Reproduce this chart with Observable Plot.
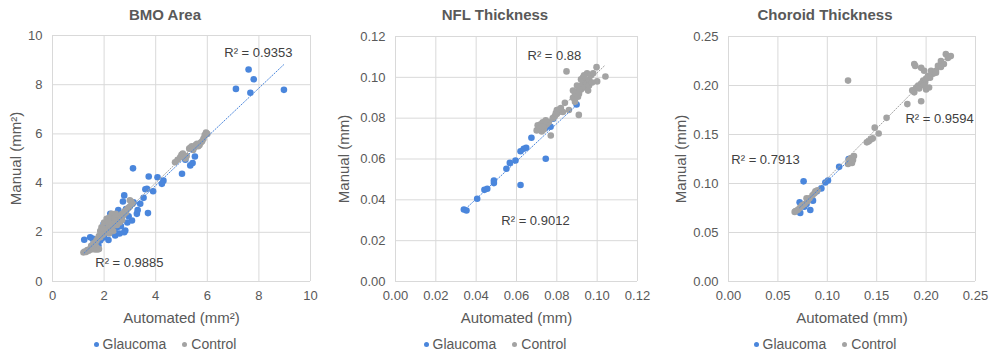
<!DOCTYPE html>
<html><head><meta charset="utf-8">
<script src="https://cdn.jsdelivr.net/npm/d3@7"></script>
<script src="https://cdn.jsdelivr.net/npm/@observablehq/plot@0.6"></script>
<style>
body{margin:0;background:#fff;font-family:"Liberation Sans",Arial,sans-serif;}
#row{display:flex;width:990px;height:356px;overflow:hidden;}
.panel{width:330px;flex:none;}
.title{height:28px;line-height:29px;text-align:center;font-weight:bold;font-size:15px;color:#595959;}
.legend{height:26px;line-height:28px;text-align:center;font-size:14px;color:#595959;}
.legend .sw{display:inline-block;width:5px;height:5px;border-radius:50%;vertical-align:middle;margin:0 4px 2px 0;}
.legend .item{margin:0 8px;}
svg{display:block;}
</style>
</head><body>
<div id="row"></div>
<script>
// ---- data ----
const titles = ["BMO Area", "NFL Thickness", "Choroid Thickness"];
const xLabels = ["Automated (mm²)", "Automated (mm)", "Automated (mm)"];
const yLabels = ["Manual (mm²)", "Manual (mm)", "Manual (mm)"];
const seriesNames = ["Glaucoma", "Control"];

const bmoTicks = [0, 2, 4, 6, 8, 10];
const nflTicks = [0, 0.02, 0.04, 0.06, 0.08, 0.10, 0.12];
const choroidTicks = [0, 0.05, 0.10, 0.15, 0.20, 0.25];

const bmoGlaucoma = [[7.6,8.62],[7.11,7.83],[7.8,8.22],[7.67,7.67],[8.97,7.79],[3.12,4.6],[3.73,4.27],[4.07,4.24],[4.3,4.1],[4.24,3.97],[5.02,4.38],[5.34,4.72],[5.43,4.82],[5.52,5.08],[5.15,4.95],[3.66,3.77],[3.9,3.67],[3.7,2.78],[3.53,3.4],[3.4,3.16],[3.14,3.22],[2.78,3.5],[2.73,3.25],[2.52,2.78],[2.24,2.75],[2.82,2.07],[2.78,2.0],[3.08,2.48],[3.27,2.75],[1.85,1.67],[2.43,1.87],[2.17,1.69],[1.23,1.7],[1.46,1.8],[1.98,2.34],[1.68,1.33],[1.78,1.46],[1.6,1.6],[2.5,2.2],[2.9,2.4],[2.3,2.0],[2.6,1.95],[2.65,2.25],[2.0,1.8],[2.2,2.45],[2.55,2.9],[2.85,2.95],[1.55,1.75],[2.95,2.65],[3.3,2.9],[2.4,2.1],[1.9,1.75],[3.6,3.75]];
const bmoControl = [[1.2,1.18],[1.25,1.22],[1.3,1.2],[1.35,1.28],[1.4,1.25],[1.45,1.32],[1.5,1.3],[1.55,1.38],[1.6,1.35],[1.65,1.3],[1.7,1.4],[1.75,1.3],[1.8,1.32],[1.5,1.45],[1.6,1.55],[1.7,1.65],[1.75,1.75],[1.8,1.85],[1.85,1.8],[1.9,1.95],[1.95,1.9],[2.0,2.05],[2.05,2.0],[2.1,2.15],[2.15,2.1],[2.2,2.25],[2.25,2.2],[2.3,2.35],[2.35,2.3],[2.4,2.45],[2.45,2.4],[2.5,2.55],[2.55,2.5],[2.6,2.65],[2.65,2.6],[2.7,2.75],[2.75,2.7],[2.8,2.85],[2.85,2.8],[2.9,2.95],[2.95,3.0],[3.0,3.05],[3.05,3.25],[3.0,3.3],[3.1,3.15],[2.0,2.4],[2.1,2.55],[2.2,2.6],[2.3,2.75],[2.4,2.6],[1.9,2.2],[2.5,2.3],[2.2,1.95],[2.35,2.05],[1.85,2.05],[2.6,2.4],[2.45,2.75],[2.15,2.45],[1.95,2.15],[2.7,2.5],[4.75,4.85],[4.85,4.95],[4.95,5.05],[5.0,5.15],[5.05,5.2],[5.15,5.0],[5.2,5.1],[5.3,5.4],[5.35,5.45],[5.4,5.5],[5.5,5.45],[5.55,5.55],[5.6,5.6],[5.7,5.55],[5.75,5.65],[5.8,5.7],[5.85,5.8],[5.9,5.95],[5.95,6.05],[6.0,6.0],[5.45,5.35],[5.65,5.5]];

const nflGlaucoma = [[0.0339,0.0353],[0.0352,0.0348],[0.0405,0.0405],[0.0441,0.0449],[0.0455,0.0454],[0.0488,0.0495],[0.0488,0.0482],[0.055,0.0552],[0.0567,0.0581],[0.0595,0.0593],[0.062,0.0638],[0.0636,0.065],[0.0648,0.0655],[0.062,0.0473],[0.0674,0.0704],[0.0745,0.0601],[0.0782,0.0797],[0.0898,0.0867],[0.0769,0.0758],[0.0744,0.0752]];
const nflControl = [[0.070,0.074],[0.071,0.076],[0.072,0.077],[0.073,0.078],[0.0715,0.075],[0.0725,0.0735],[0.074,0.076],[0.075,0.077],[0.0705,0.0765],[0.0735,0.0745],[0.076,0.078],[0.0745,0.079],[0.072,0.075],[0.073,0.076],[0.077,0.0715],[0.078,0.080],[0.079,0.081],[0.080,0.082],[0.081,0.083],[0.082,0.085],[0.080,0.084],[0.083,0.083],[0.0795,0.0825],[0.0815,0.0845],[0.084,0.0875],[0.086,0.084],[0.088,0.090],[0.089,0.092],[0.090,0.093],[0.091,0.095],[0.092,0.096],[0.093,0.097],[0.094,0.098],[0.092,0.094],[0.091,0.092],[0.093,0.099],[0.095,0.097],[0.096,0.099],[0.097,0.101],[0.098,0.102],[0.095,0.102],[0.094,0.095],[0.096,0.096],[0.090,0.096],[0.089,0.088],[0.092,0.099],[0.093,0.100],[0.0975,0.0975],[0.100,0.098],[0.0848,0.1029],[0.0909,0.0816],[0.1041,0.1004],[0.0997,0.105],[0.0935,0.101],[0.0955,0.0935],[0.088,0.0935],[0.0905,0.0905]];

const choroidGlaucoma = [[0.076,0.1022],[0.072,0.0808],[0.0726,0.070],[0.0828,0.073],[0.0855,0.0825],[0.0767,0.0764],[0.0895,0.092],[0.094,0.095],[0.098,0.101],[0.1007,0.103],[0.112,0.117],[0.1216,0.125],[0.079,0.079]];
const choroidControl = [[0.067,0.071],[0.070,0.073],[0.072,0.075],[0.075,0.078],[0.077,0.079],[0.080,0.082],[0.082,0.085],[0.085,0.088],[0.087,0.090],[0.088,0.092],[0.090,0.093],[0.068,0.072],[0.074,0.077],[0.079,0.085],[0.121,0.120],[0.123,0.122],[0.125,0.121],[0.126,0.124],[0.127,0.128],[0.124,0.126],[0.122,0.124],[0.140,0.142],[0.142,0.143],[0.144,0.145],[0.146,0.146],[0.148,0.157],[0.152,0.151],[0.160,0.167],[0.181,0.181],[0.186,0.195],[0.188,0.193],[0.190,0.198],[0.192,0.200],[0.195,0.202],[0.197,0.205],[0.199,0.203],[0.200,0.207],[0.202,0.210],[0.198,0.215],[0.195,0.218],[0.205,0.215],[0.207,0.212],[0.210,0.215],[0.212,0.220],[0.215,0.225],[0.218,0.222],[0.220,0.232],[0.225,0.230],[0.222,0.228],[0.188,0.222],[0.189,0.220],[0.195,0.184],[0.200,0.196],[0.203,0.198],[0.193,0.197],[0.198,0.200],[0.204,0.208],[0.210,0.213],[0.215,0.219],[0.121,0.205]];

// R² annotations: [x, y, label]
const bmoR2 = [[7.98,9.31,"R² = 0.9353"],[2.98,0.77,"R² = 0.9885"]];
const nflR2 = [[0.0788,0.1107,"R² = 0.88"],[0.0694,0.0299,"R² = 0.9012"]];
const choroidR2 = [[0.2136,0.1663,"R² = 0.9594"],[0.0374,0.1245,"R² = 0.7913"]];

// ---- styling ----
const BLUE = "#4a86dc", GRAY = "#a3a3a3", TXT = "#595959";
const FONT = '"Liberation Sans", Arial, sans-serif';

function makePanel(i, glaucoma, control, ticks, fmt, r2, m) {
  const g = glaucoma.map(([x, y]) => ({x, y}));
  const c = control.map(([x, y]) => ({x, y}));
  const a = r2.map(([x, y, t]) => ({x, y, t}));
  const domain = [ticks[0], ticks[ticks.length - 1]];
  const grid = {stroke: "#d9d9d9", strokeOpacity: 1, strokeWidth: 1};
  const svg = Plot.plot({
    width: 330, height: 302,
    marginLeft: m[0], marginRight: m[1], marginTop: m[2], marginBottom: 49,
    style: {fontFamily: FONT, fontSize: "13px", color: TXT, background: "white"},
    x: {domain},
    y: {domain},
    marks: [
      Plot.gridX(ticks, grid),
      Plot.gridY(ticks, grid),
      Plot.axisX({ticks, tickFormat: fmt, tickSize: 0, tickPadding: 9, fontSize: 13,
        label: xLabels[i], labelAnchor: "center", labelArrow: "none", labelOffset: 41}),
      Plot.axisY({ticks, tickFormat: fmt, tickSize: 0, tickPadding: 10, fontSize: 13,
        label: yLabels[i], labelAnchor: "center", labelArrow: "none", labelOffset: m[3]}),
      Plot.dot(g, {x: "x", y: "y", r: 3.3, fill: BLUE}),
      Plot.dot(c, {x: "x", y: "y", r: 3.3, fill: GRAY}),
      Plot.linearRegressionY(g, {x: "x", y: "y", ci: 0, stroke: BLUE, strokeWidth: 1, strokeDasharray: "1.2,1.8"}),
      Plot.linearRegressionY(c, {x: "x", y: "y", ci: 0, stroke: GRAY, strokeWidth: 1, strokeDasharray: "1.2,1.8"}),
      Plot.text(a, {x: "x", y: "y", text: "t", fill: "#404040", fontSize: 13, textAnchor: "middle"})
    ]
  });
  svg.querySelectorAll("[aria-label='x-axis label'] text, [aria-label='y-axis label'] text").forEach(t => t.setAttribute("font-size", "15px"));
  const panel = document.createElement("div");
  panel.className = "panel";
  const title = document.createElement("div");
  title.className = "title";
  title.textContent = titles[i];
  panel.appendChild(title);
  panel.appendChild(svg);
  const legend = document.createElement("div");
  legend.className = "legend";
  legend.innerHTML = `<span class="item"><span class="sw" style="background:${BLUE}"></span>${seriesNames[0]}</span><span class="item"><span class="sw" style="background:${GRAY}"></span>${seriesNames[1]}</span>`;
  panel.appendChild(legend);
  document.getElementById("row").appendChild(panel);
}

makePanel(0, bmoGlaucoma, bmoControl, bmoTicks, d3.format("d"), bmoR2, [52, 20, 7, 42]);
makePanel(1, nflGlaucoma, nflControl, nflTicks, d3.format(".2f"), nflR2, [65, 23, 8, 57]);
makePanel(2, choroidGlaucoma, choroidControl, choroidTicks, d3.format(".2f"), choroidR2, [68, 15, 8, 53]);
</script>
</body></html>
